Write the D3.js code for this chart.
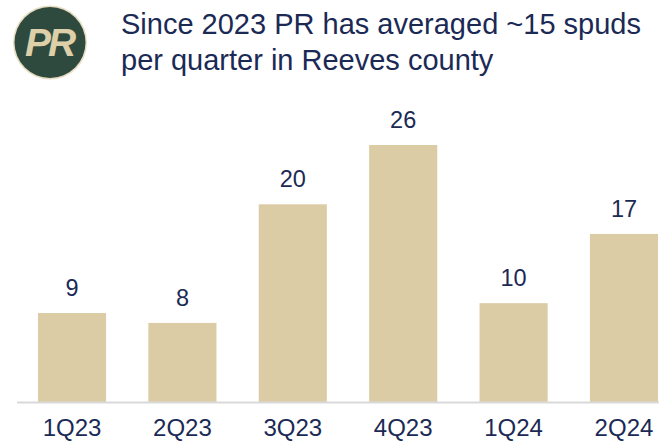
<!DOCTYPE html>
<html>
<head>
<meta charset="utf-8">
<script src="https://cdn.jsdelivr.net/npm/d3@7"></script>
<style>
  html, body { margin: 0; padding: 0; background: #fff; }
  svg { display: block; font-family: "Liberation Sans", Arial, sans-serif; }
</style>
</head>
<body>
<div id="chart"></div>
<script>
var quarters = ['1Q23', '2Q23', '3Q23', '4Q23', '1Q24', '2Q24'];
var spuds = [9, 8, 20, 26, 10, 17];
var titleLines = ['Since 2023 PR has averaged ~15 spuds', 'per quarter in Reeves county'];

(function() {
  var width = 659, height = 442, base = 402;
  var navy = '#1b2a55', sand = '#dccca6';

  var svg = d3.select('#chart').append('svg')
    .attr('width', width)
    .attr('height', height);

  // logo
  var logo = svg.append('g').attr('transform', 'translate(50,42.5)');
  logo.append('circle').attr('r', 37).attr('fill', '#e8dcc0');
  logo.append('circle').attr('r', 35.5).attr('fill', '#2e4a3f');
  logo.append('text')
    .attr('x', -1).attr('y', 13)
    .attr('text-anchor', 'middle')
    .attr('font-size', 39)
    .attr('font-weight', 'bold')
    .attr('font-style', 'italic')
    .attr('letter-spacing', -3)
    .attr('fill', '#ddcfa8')
    .text('PR');

  // title
  svg.append('g').selectAll('text')
    .data(titleLines)
    .enter().append('text')
    .attr('x', 121)
    .attr('y', function(d, i) { return 34 + i * 36; })
    .attr('font-size', 29)
    .attr('fill', navy)
    .text(function(d) { return d; });

  var x = d3.scaleBand()
    .domain(quarters)
    .range([17, 679])
    .paddingInner(0.383)
    .paddingOuter(0.19);

  var y = d3.scaleLinear()
    .domain([0, 26])
    .range([base, 145]);

  var data = quarters.map(function(q, i) { return { q: q, v: spuds[i] }; });

  svg.append('g').selectAll('rect')
    .data(data)
    .enter().append('rect')
    .attr('x', function(d) { return x(d.q); })
    .attr('y', function(d) { return y(d.v); })
    .attr('width', x.bandwidth())
    .attr('height', function(d) { return base - y(d.v); })
    .attr('fill', sand);

  svg.append('g').selectAll('text')
    .data(data)
    .enter().append('text')
    .attr('x', function(d) { return x(d.q) + x.bandwidth() / 2; })
    .attr('y', function(d) { return y(d.v) - 17; })
    .attr('text-anchor', 'middle')
    .attr('font-size', 23.5)
    .attr('fill', navy)
    .text(function(d) { return d.v; });

  var axis = svg.append('g')
    .attr('transform', 'translate(0,' + base + ')')
    .call(d3.axisBottom(x).tickSize(0).tickPadding(17));
  axis.select('.domain')
    .attr('d', 'M17,0.5H' + width)
    .attr('stroke', '#d9d9d9')
    .attr('stroke-width', 2);
  axis.selectAll('.tick text')
    .attr('font-size', 24)
    .attr('font-family', '"Liberation Sans", Arial, sans-serif')
    .attr('fill', navy);
})();
</script>
</body>
</html>
